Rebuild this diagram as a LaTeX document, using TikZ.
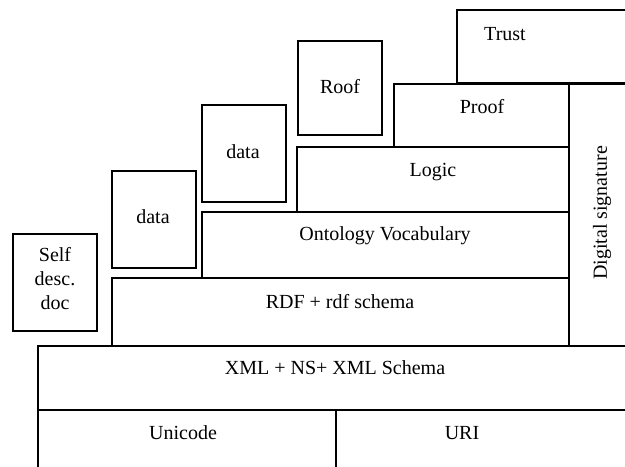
\documentclass[tikz,border=0pt]{standalone}
\usepackage{fontspec}
\setmainfont{Liberation Serif}

\tikzset{every picture/.style={line width=1.2pt}}
\tikzset{layer/.style={draw, line width=1.2pt}, lbl/.style={font=\fontsize{15}{18}\selectfont, inner sep=0pt, align=center}}

\begin{document}
\begin{tikzpicture}[x=0.75pt,y=0.75pt,yscale=-1,xscale=1]
	\useasboundingbox (0,0) rectangle (625,467);
	\clip (0,0) rectangle (625,467);

	%Shape: Rectangle [Trust]
	\draw [layer] (457,10) -- (640,10) -- (640,83) -- (457,83) -- cycle ;
	%Shape: Rectangle [Roof]
	\draw [layer] (298,41) -- (382,41) -- (382,135) -- (298,135) -- cycle ;
	%Shape: Rectangle [Proof]
	\draw [layer] (394,84) -- (569,84) -- (569,147) -- (394,147) -- cycle ;
	%Shape: Rectangle [Digital signature]
	\draw [layer] (569,84) -- (640,84) -- (640,346) -- (569,346) -- cycle ;
	%Shape: Rectangle [data, upper]
	\draw [layer] (202,105) -- (286,105) -- (286,202) -- (202,202) -- cycle ;
	%Shape: Rectangle [Logic]
	\draw [layer] (297,147) -- (569,147) -- (569,212) -- (297,212) -- cycle ;
	%Shape: Rectangle [data, lower]
	\draw [layer] (112,171) -- (196,171) -- (196,268) -- (112,268) -- cycle ;
	%Shape: Rectangle [Ontology]
	\draw [layer] (202,212) -- (569,212) -- (569,278) -- (202,278) -- cycle ;
	%Shape: Rectangle [Self desc. doc]
	\draw [layer] (13,234) -- (97,234) -- (97,331) -- (13,331) -- cycle ;
	%Shape: Rectangle [RDF]
	\draw [layer] (112,278) -- (569,278) -- (569,346) -- (112,346) -- cycle ;
	%Shape: Rectangle [XML]
	\draw [layer] (38,346) -- (640,346) -- (640,410) -- (38,410) -- cycle ;
	%Shape: Rectangle [Unicode]
	\draw [layer] (38,410) -- (336,410) -- (336,480) -- (38,480) -- cycle ;
	%Shape: Rectangle [URI]
	\draw [layer] (336,410) -- (640,410) -- (640,480) -- (336,480) -- cycle ;

	% Text Node
	\node [lbl] (trust) at (505,34) {Trust};
	% Text Node
	\node [lbl] (roof) at (340,87) {Roof};
	% Text Node
	\node [lbl] (proof) at (482,107) {Proof};
	% Text Node
	\node [lbl] (data2) at (243,152) {data};
	% Text Node
	\node [lbl] (logic) at (433,172) {Logic};
	% Text Node
	\node [lbl] (data1) at (153,217) {data};
	% Text Node
	\node [lbl] (onto) at (385,236) {Ontology Vocabulary};
	% Text Node
	\node [lbl] (self) at (55,279) {Self\\desc.\\doc};
	% Text Node
	\node [lbl] (rdf) at (340,302) {RDF + rdf schema};
	% Text Node
	\node [lbl] (xml) at (335,368) {XML + NS+ XML Schema};
	% Text Node
	\node [lbl] (unicode) at (183,433) {Unicode};
	% Text Node
	\node [lbl] (uri) at (462,433) {URI};
	% Text Node
	\node [lbl, rotate=90] (sig) at (602,213) {Digital signature};

\end{tikzpicture}
\end{document}
